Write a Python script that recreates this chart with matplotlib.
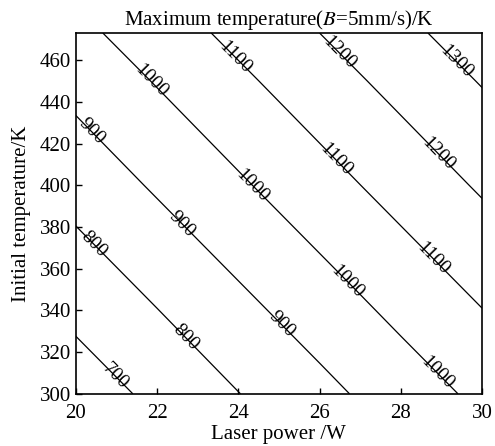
import numpy as np
import matplotlib
matplotlib.use('Agg')
import matplotlib.pyplot as plt

# ============================
# DATOS
# ============================

laser_power = [20, 22, 24, 26, 28, 30]          # W
initial_temp = [300, 350, 400, 450, 473]        # K

# temperatura máxima (K), filas = temperatura inicial, columnas = potencia
t_max_300 = [648, 722, 798, 872, 948, 1022]
t_max_350 = [742, 817, 892, 967, 1042, 1117]
t_max_400 = [837, 912, 987, 1062, 1137, 1212]
t_max_450 = [931, 1006, 1081, 1156, 1231, 1306]
t_max_473 = [975, 1050, 1125, 1200, 1275, 1350]

levels = [700, 800, 900, 1000, 1100, 1200, 1300]

# posiciones aproximadas de las etiquetas (potencia, temperatura inicial)
label_pos = [
    (21.0, 309), (20.5, 373), (22.7, 327),
    (20.4, 426), (22.6, 381), (25.1, 334),
    (21.8, 449), (24.3, 399), (26.7, 354), (28.9, 310),
    (23.9, 461), (26.5, 414), (28.8, 365),
    (26.45, 463), (28.9, 415),
    (29.4, 460),
]

# ============================
# FIGURA
# ============================

plt.rcParams['font.family'] = ['Liberation Serif', 'DejaVu Serif']
plt.rcParams['mathtext.fontset'] = 'stix'

Z = np.array([t_max_300, t_max_350, t_max_400, t_max_450, t_max_473])
X, Y = np.meshgrid(laser_power, initial_temp)

fig = plt.figure(figsize=(4.95, 4.46), dpi=100)
ax = fig.add_axes([0.153, 0.117, 0.821, 0.809])

cs = ax.contour(X, Y, Z, levels=levels, colors='black', linewidths=0.9)
ax.clabel(cs, inline=False, fontsize=14, fmt='%d', manual=label_pos, colors='black')

ax.set_xlim(20, 30)
ax.set_ylim(300, 473)
ax.set_xticks([20, 22, 24, 26, 28, 30])
ax.set_yticks(range(300, 461, 20))
ax.tick_params(direction='in', length=4, width=1, labelsize=15, top=False, right=False)
ax.tick_params(axis='x', pad=7)
for s in ax.spines.values():
    s.set_linewidth(1.2)

ax.set_xlabel("Laser power /W", fontsize=15, labelpad=2)
ax.set_ylabel("Initial temperature/K", fontsize=15, labelpad=6)
ax.set_title("Maximum temperature($B$=5mm/s)/K", fontsize=15, pad=6)

fig.savefig("out.png", dpi=100)
